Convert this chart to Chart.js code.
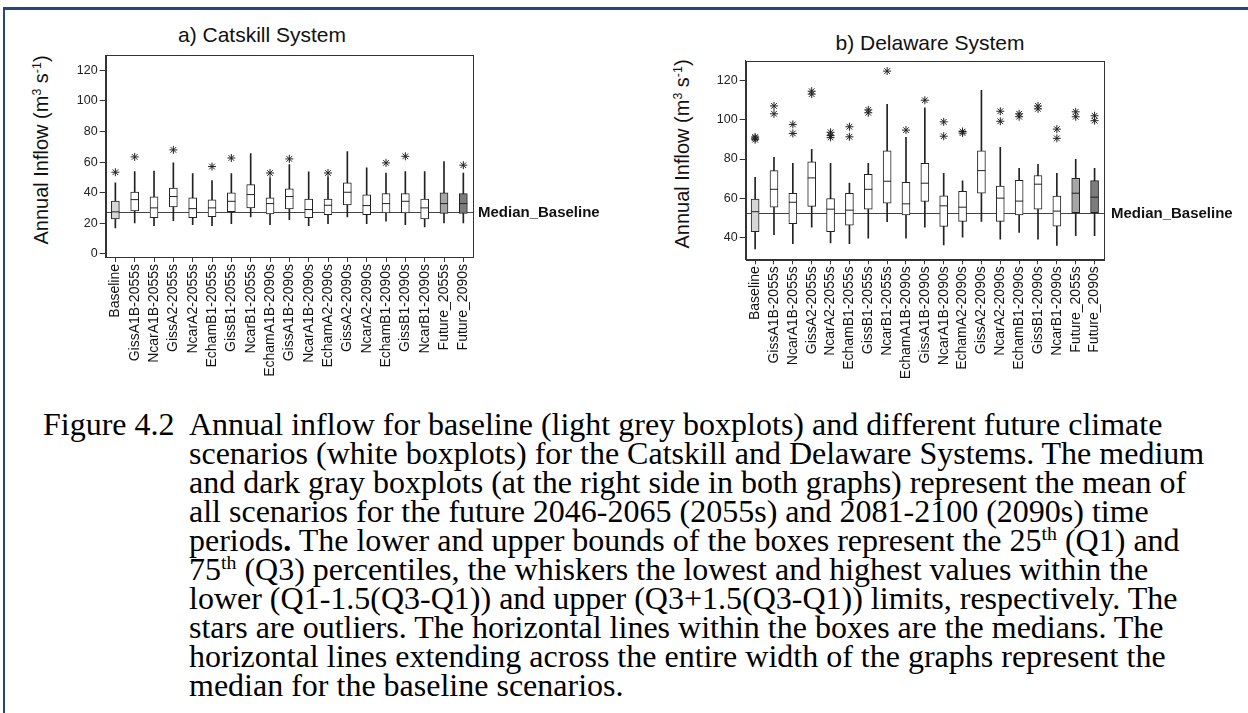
<!DOCTYPE html>
<html>
<head>
<meta charset="utf-8">
<script src="https://cdn.jsdelivr.net/npm/chart.js@4"></script>
<style>
  body { margin: 0; background: #fff; width: 1248px; height: 713px; position: relative; overflow: hidden; }
  .frame-top { position: absolute; left: 3px; top: 7px; width: 1245px; height: 3px; background: #24487a; }
  .frame-left { position: absolute; left: 3px; top: 7px; width: 2px; height: 706px; background: #24487a; }
  canvas { position: absolute; }
  .ptitle { position: absolute; width: 240px; text-align: center; font: 21px "Liberation Sans", Arial, sans-serif; line-height: 24px; color: #111; }
  .ytitle { position: absolute; white-space: nowrap; font: 20px "Liberation Sans", Arial, sans-serif; color: #111;
            transform: translate(-50%, -50%) rotate(-90deg); }
  .ytitle sup, .caption sup { font-size: 0.62em; vertical-align: 0; position: relative; top: -0.55em; line-height: 0; }
  .caption { position: absolute; left: 43px; top: 410px; font: 32px "Liberation Serif", "Times New Roman", serif;
             line-height: 29px; color: #000; white-space: nowrap; }
  .caption .label { position: absolute; left: 0; top: 0; }
  .caption .body { position: absolute; left: 146px; top: 0; }
</style>
</head>
<body>
<div class="frame-top"></div>
<div class="frame-left"></div>

<div class="ptitle" style="left:142px; top:23px;">a) Catskill System</div>
<div class="ptitle" style="left:810px; top:31px;">b) Delaware System</div>
<div class="ytitle" style="left:41px; top:150px;">Annual Inflow (m<sup>3</sup> s<sup>-1</sup>)</div>
<div class="ytitle" style="left:682px; top:154px;">Annual Inflow (m<sup>3</sup> s<sup>-1</sup>)</div>

<canvas id="chartA" width="620" height="340" style="left:0px; top:40px;"></canvas>
<canvas id="chartB" width="608" height="340" style="left:640px; top:40px;"></canvas>

<div class="caption">
  <div class="label">Figure 4.2</div>
  <div class="body">
    Annual inflow for baseline (light grey boxplots) and different future climate<br>
    scenarios (white boxplots) for the Catskill and Delaware Systems. The medium<br>
    and dark gray boxplots (at the right side in both graphs) represent the mean of<br>
    all scenarios for the future 2046-2065 (2055s) and 2081-2100 (2090s) time<br>
    periods<b>.</b> The lower and upper bounds of the boxes represent the 25<sup>th</sup> (Q1) and<br>
    75<sup>th</sup> (Q3) percentiles, the whiskers the lowest and highest values within the<br>
    lower (Q1-1.5(Q3-Q1)) and upper (Q3+1.5(Q3-Q1)) limits, respectively. The<br>
    stars are outliers. The horizontal lines within the boxes are the medians. The<br>
    horizontal lines extending across the entire width of the graphs represent the<br>
    median for the baseline scenarios.
  </div>
</div>

<script>
const categories = ['Baseline', 'GissA1B-2055s', 'NcarA1B-2055s', 'GissA2-2055s', 'NcarA2-2055s', 'EchamB1-2055s',
  'GissB1-2055s', 'NcarB1-2055s', 'EchamA1B-2090s', 'GissA1B-2090s', 'NcarA1B-2090s', 'EchamA2-2090s',
  'GissA2-2090s', 'NcarA2-2090s', 'EchamB1-2090s', 'GissB1-2090s', 'NcarB1-2090s', 'Future_2055s', 'Future_2090s']

// a) Catskill
const catLow = [17, 20.3, 18.5, 21.8, 19.2, 18.5, 19.8, 24.2, 19.2, 22.4, 18.5, 19.8, 24.2, 19.8, 21.4, 19.2, 17.6, 20.3, 20.3]
const catQ1 = [22.9, 28.1, 23.7, 30.7, 23.7, 24.4, 27.7, 30.1, 26.1, 29.4, 23.7, 25.7, 32, 25.7, 26.8, 26.8, 22.9, 26.4, 26.4]
const catMedian = [27.5, 35.5, 30.1, 37.5, 29.6, 30.1, 34.4, 38.8, 32.9, 37.5, 29, 31.8, 40.3, 31.6, 32.9, 34.4, 30.1, 32.9, 32.9]
const catQ3 = [34.6, 40.5, 37.3, 43.1, 36.6, 35.3, 39.9, 45.3, 36.6, 42.5, 35.9, 35.9, 46.4, 38.6, 39.4, 39.4, 35.9, 39.9, 39.4]
const catHigh = [46.4, 53.8, 54.2, 59.5, 52.5, 47.9, 52.5, 65.6, 49.9, 58.4, 53.6, 50.3, 66.9, 56.2, 52.9, 53.8, 53.8, 60.3, 52.9]
const catOutliers = [[53.4], [63.4], [], [68], [], [57.1], [62.7], [], [52.9], [62.1], [], [52.9], [], [], [59.5], [63.8], [], [], [58]]
const catBaselineMedian = 27.4

// b) Delaware
const delLow = [34.3, 41.5, 37, 45.4, 37.3, 37, 39.8, 48.1, 39.8, 45.4, 36.3, 40.3, 48.3, 39.3, 42.7, 39.3, 36, 41, 41]
const delQ1 = [43, 55.5, 47.1, 55.9, 43, 46.4, 54.5, 57.6, 51.6, 58.4, 45.7, 48.3, 62.6, 48.3, 51.6, 54.5, 45.9, 52.7, 52.7]
const delMedian = [53.2, 64.6, 58, 70.4, 54.5, 54, 64.6, 68.7, 57.2, 67.7, 56.2, 55.5, 74.1, 60.1, 58.6, 67.2, 53.5, 62.6, 60.6]
const delQ3 = [59.6, 74.1, 62.6, 78.6, 59.9, 62.6, 72.2, 84.2, 68.2, 77.8, 61.3, 63.6, 84.2, 66.2, 69.2, 71.6, 61.1, 70.2, 69]
const delHigh = [70.7, 80.8, 77.8, 84.9, 77.8, 67.7, 77.8, 107.8, 91, 106, 72.7, 68.9, 114.9, 85.9, 75.3, 77.3, 72.7, 79.8, 75.3]
const delOutliers = [[89.8, 90.6, 91.2], [103, 107], [93, 97.6], [113, 114.5], [91, 92, 93.6], [91.3, 96.4], [103.5, 105],
  [124.7], [94.7], [109.9], [91.6, 98.9], [93.2, 94], [], [99.2, 104.3], [101.5, 103], [105.5, 107], [90.5, 95.2],
  [101.5, 104], [99.5, 102]]
const delBaselineMedian = 52.7

const boxFills = categories.map(c => c == 'Baseline' ? '#d6d6d6' : c == 'Future_2055s' ? '#a6a6a6' : c == 'Future_2090s' ? '#7c7c7c' : '#ffffff')

const sansFont = '"Liberation Sans", Arial, sans-serif'
const axisColor = '#333'

// frame round the plot area, median baseline and its label
const boxFramePlugin = {
    id: 'boxFrame',
    beforeDatasetsDraw(chart, args, opts) {
        const { ctx, chartArea, scales } = chart
        const y = Math.round(scales.y.getPixelForValue(opts.median)) + 0.5
        ctx.save()
        ctx.strokeStyle = '#444'
        ctx.lineWidth = 1
        ctx.beginPath()
        ctx.moveTo(chartArea.left, y)
        ctx.lineTo(chartArea.right, y)
        ctx.stroke()
        ctx.restore()
    },
    afterDraw(chart, args, opts) {
        const { ctx, chartArea, scales } = chart
        ctx.save()
        ctx.strokeStyle = axisColor
        ctx.lineWidth = 1
        ctx.strokeRect(Math.round(chartArea.left) + 0.5, Math.round(chartArea.top) + 0.5,
            Math.round(chartArea.right - chartArea.left), Math.round(chartArea.bottom - chartArea.top))
        const y = scales.y.getPixelForValue(opts.median)
        ctx.fillStyle = '#111'
        ctx.font = 'bold 15px ' + sansFont
        ctx.textBaseline = 'middle'
        ctx.fillText('Median_Baseline', chartArea.right + opts.labelGap, y + 1)
        ctx.restore()
    }
}

function makeChart(id, low, q1, median, q3, high, outliers, cfg) {
    const outlierPoints = []
    outliers.forEach((vals, i) => {
        vals.forEach(v => outlierPoints.push({ x: categories[i], y: v }))
    })
    return new Chart(document.getElementById(id), {
        type: 'bar',
        data: {
            labels: categories,
            datasets: [
                {
                    type: 'line',
                    data: outlierPoints,
                    showLine: false,
                    pointStyle: 'star',
                    pointRadius: 4,
                    pointBorderColor: '#222',
                    pointBorderWidth: 1,
                    order: 0
                },
                {
                    type: 'line',
                    data: median,
                    showLine: false,
                    pointStyle: 'line',
                    pointRadius: 4,
                    pointBorderColor: '#222',
                    pointBorderWidth: 1,
                    order: 1
                },
                {
                    data: categories.map((c, i) => [q1[i], q3[i]]),
                    backgroundColor: boxFills,
                    borderColor: '#222',
                    borderWidth: 1,
                    borderSkipped: false,
                    barThickness: 8,
                    grouped: false,
                    order: 2
                },
                {
                    data: categories.map((c, i) => [low[i], high[i]]),
                    backgroundColor: '#222',
                    borderWidth: 0,
                    barThickness: 1,
                    grouped: false,
                    order: 3
                }
            ]
        },
        options: {
            responsive: false,
            animation: false,
            devicePixelRatio: 1,
            layout: { padding: cfg.padding },
            plugins: {
                legend: { display: false },
                tooltip: { enabled: false },
                boxFrame: { median: cfg.baselineMedian, labelGap: cfg.labelGap }
            },
            scales: {
                x: {
                    grid: { offset: false, drawOnChartArea: false, tickLength: 5, color: axisColor },
                    border: { color: axisColor },
                    ticks: {
                        autoSkip: false, maxRotation: 90, minRotation: 90, padding: 2,
                        color: '#111', font: { family: sansFont, size: 14 }
                    },
                    afterFit: s => { s.height = cfg.xHeight }
                },
                y: {
                    min: cfg.yMin,
                    max: cfg.yMax,
                    grid: { drawOnChartArea: false, tickLength: 6, color: axisColor },
                    border: { color: axisColor },
                    ticks: {
                        stepSize: 20, includeBounds: false, padding: 2,
                        color: '#222', font: { family: sansFont, size: 12.5 }
                    },
                    afterFit: s => { s.width = 45.7 }
                }
            }
        },
        plugins: [boxFramePlugin]
    })
}

makeChart('chartA', catLow, catQ1, catMedian, catQ3, catHigh, catOutliers, {
    padding: { left: 60, top: 15, right: 147, bottom: 0 },
    xHeight: 123,
    yMin: -2,
    yMax: 130,
    baselineMedian: catBaselineMedian,
    labelGap: 5
})

makeChart('chartB', delLow, delQ1, delMedian, delQ3, delHigh, delOutliers, {
    padding: { left: 60, top: 20.7, right: 144, bottom: 0 },
    xHeight: 120.7,
    yMin: 29,
    yMax: 130,
    baselineMedian: delBaselineMedian,
    labelGap: 7
})
</script>
</body>
</html>
